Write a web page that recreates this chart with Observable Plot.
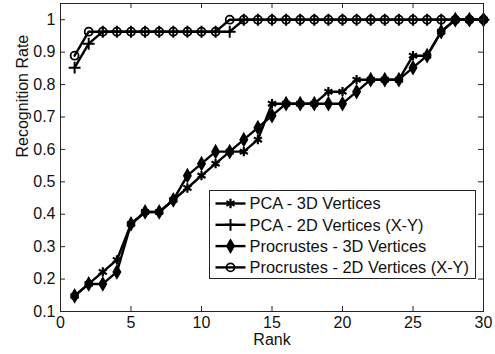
<!DOCTYPE html>
<html>
<head>
<meta charset="utf-8">
<script src="https://cdn.jsdelivr.net/npm/d3@7"></script>
<script src="https://cdn.jsdelivr.net/npm/@observablehq/plot@0.6"></script>
<style>
  html, body { margin: 0; padding: 0; background: #fff; }
  #chart svg { display: block; }
</style>
</head>
<body>
<div id="chart"></div>
<script>
// Cumulative recognition rate by rank for four matching methods
const ranks = [1, 2, 3, 4, 5, 6, 7, 8, 9, 10, 11, 12, 13, 14, 15,
               16, 17, 18, 19, 20, 21, 22, 23, 24, 25, 26, 27, 28, 29, 30];

const seriesNames = [
  "PCA - 3D Vertices",
  "PCA - 2D Vertices (X-Y)",
  "Procrustes - 3D Vertices",
  "Procrustes - 2D Vertices (X-Y)"
];

const pca3d = [0.148, 0.185, 0.222, 0.259, 0.370, 0.407, 0.407, 0.444, 0.481, 0.519,
               0.556, 0.593, 0.593, 0.630, 0.741, 0.741, 0.741, 0.741, 0.778, 0.778,
               0.815, 0.815, 0.815, 0.815, 0.889, 0.889, 0.963, 1.000, 1.000, 1.000];
const pca2d = [0.852, 0.926, 0.963, 0.963, 0.963, 0.963, 0.963, 0.963, 0.963, 0.963,
               0.963, 0.963, 1.000, 1.000, 1.000, 1.000, 1.000, 1.000, 1.000, 1.000,
               1.000, 1.000, 1.000, 1.000, 1.000, 1.000, 1.000, 1.000, 1.000, 1.000];
const procrustes3d = [0.148, 0.185, 0.185, 0.222, 0.370, 0.407, 0.407, 0.444, 0.519, 0.556,
                      0.593, 0.593, 0.630, 0.667, 0.704, 0.741, 0.741, 0.741, 0.741, 0.741,
                      0.778, 0.815, 0.815, 0.815, 0.852, 0.889, 0.963, 1.000, 1.000, 1.000];
const procrustes2d = [0.889, 0.963, 0.963, 0.963, 0.963, 0.963, 0.963, 0.963, 0.963, 0.963,
                      0.963, 1.000, 1.000, 1.000, 1.000, 1.000, 1.000, 1.000, 1.000, 1.000,
                      1.000, 1.000, 1.000, 1.000, 1.000, 1.000, 1.000, 1.000, 1.000, 1.000];

const xTicks = [0, 5, 10, 15, 20, 25, 30];
const yTicks = [0.1, 0.2, 0.3, 0.4, 0.5, 0.6, 0.7, 0.8, 0.9, 1];
const xLabel = "Rank";
const yLabel = "Recognition Rate";

const seriesValues = [pca3d, pca2d, procrustes3d, procrustes2d];

// marker style per series (MATLAB-like: *, +, filled diamond, open circle)
const markerStyles = [
  { symbol: "asterisk", r: 4.4, fill: "none", stroke: "#000", strokeWidth: 2.2 },
  { symbol: "plus", r: 3.9, fill: "none", stroke: "#000", strokeWidth: 2 },
  { symbol: "diamond", r: 3.8, fill: "#000", stroke: "#000", strokeWidth: 1.6 },
  { symbol: "circle", r: 4, fill: "none", stroke: "#000", strokeWidth: 1.8 }
];
const d3Symbols = {
  asterisk: d3.symbolAsterisk, plus: d3.symbolPlus,
  diamond: d3.symbolDiamond, circle: d3.symbolCircle
};

const tables = seriesValues.map((vals, s) =>
  ranks.map((rank, i) => ({ rank, rate: vals[i], series: seriesNames[s] })));

const fontFamily = "'Liberation Sans', Arial, sans-serif";
const W = 495, H = 354;
const mL = 60, mR = 12, mT = 3, mB = 43;
const plotH = H - mT - mB, plotW = W - mL - mR;
const tickLen = 5;

const seriesMarks = tables.flatMap((t, s) => {
  const m = markerStyles[s];
  return [
    Plot.line(t, { x: "rank", y: "rate", stroke: "#000", strokeWidth: 2.4 }),
    Plot.dot(t, { x: "rank", y: "rate", symbol: () => m.symbol, r: m.r,
                  fill: m.fill, stroke: m.stroke, strokeWidth: m.strokeWidth })
  ];
});

const chart = Plot.plot({
  width: W, height: H,
  marginLeft: mL, marginRight: mR, marginTop: mT, marginBottom: mB,
  style: { fontFamily, fontSize: "16px", color: "#111", background: "#fff", overflow: "visible" },
  x: { domain: [0, 30] },
  y: { domain: [0.1, 1.05] },
  symbol: { type: "identity" },
  marks: [
    ...seriesMarks,
    // inward tick marks on all four sides
    Plot.tickX(xTicks, { x: d => d, insetTop: plotH - tickLen, stroke: "#262626" }),
    Plot.tickX(xTicks, { x: d => d, insetBottom: plotH - tickLen, stroke: "#262626" }),
    Plot.tickY(yTicks, { y: d => d, insetRight: plotW - tickLen, stroke: "#262626" }),
    Plot.tickY(yTicks, { y: d => d, insetLeft: plotW - tickLen, stroke: "#262626" }),
    Plot.axisX({ ticks: xTicks, tickSize: 0, tickPadding: 5, label: null, fill: "#111" }),
    Plot.axisY({ ticks: yTicks, tickSize: 0, tickPadding: 5, label: null, fill: "#111",
                 tickFormat: d => d === 1 ? "1" : d3.format(".1f")(d) }),
    Plot.text([xLabel], { frameAnchor: "bottom", dy: 33, text: d => d, fill: "#111" }),
    Plot.text([yLabel], { frameAnchor: "left", dx: -38, rotate: -90, text: d => d, fill: "#111" }),
    Plot.frame({ stroke: "#262626" })
  ]
});

// legend box in the lower right of the axes
const svg = d3.select(chart);
const leg = svg.append("g").attr("font-family", fontFamily).attr("font-size", 16.4)
  .attr("text-anchor", "start");
const lx = 209.5, ly = 190.5, lw = 266, lh = 88;
leg.append("rect").attr("x", lx).attr("y", ly).attr("width", lw).attr("height", lh)
  .attr("fill", "#fff").attr("stroke", "#262626").attr("stroke-width", 1);
seriesNames.forEach((name, i) => {
  const cy = ly + 13 + i * 21.3;
  const m = markerStyles[i];
  leg.append("line").attr("x1", lx + 6).attr("x2", lx + 36).attr("y1", cy).attr("y2", cy)
    .attr("stroke", "#000").attr("stroke-width", 2.4);
  leg.append("path")
    .attr("transform", `translate(${lx + 21},${cy})`)
    .attr("d", d3.symbol(d3Symbols[m.symbol], Math.PI * m.r * m.r)())
    .attr("fill", m.fill).attr("stroke", m.stroke).attr("stroke-width", m.strokeWidth);
  leg.append("text").attr("x", lx + 40).attr("y", cy).attr("dy", "0.35em")
    .attr("text-anchor", "start").attr("fill", "#111").text(name);
});

document.getElementById("chart").appendChild(chart);
</script>
</body>
</html>
